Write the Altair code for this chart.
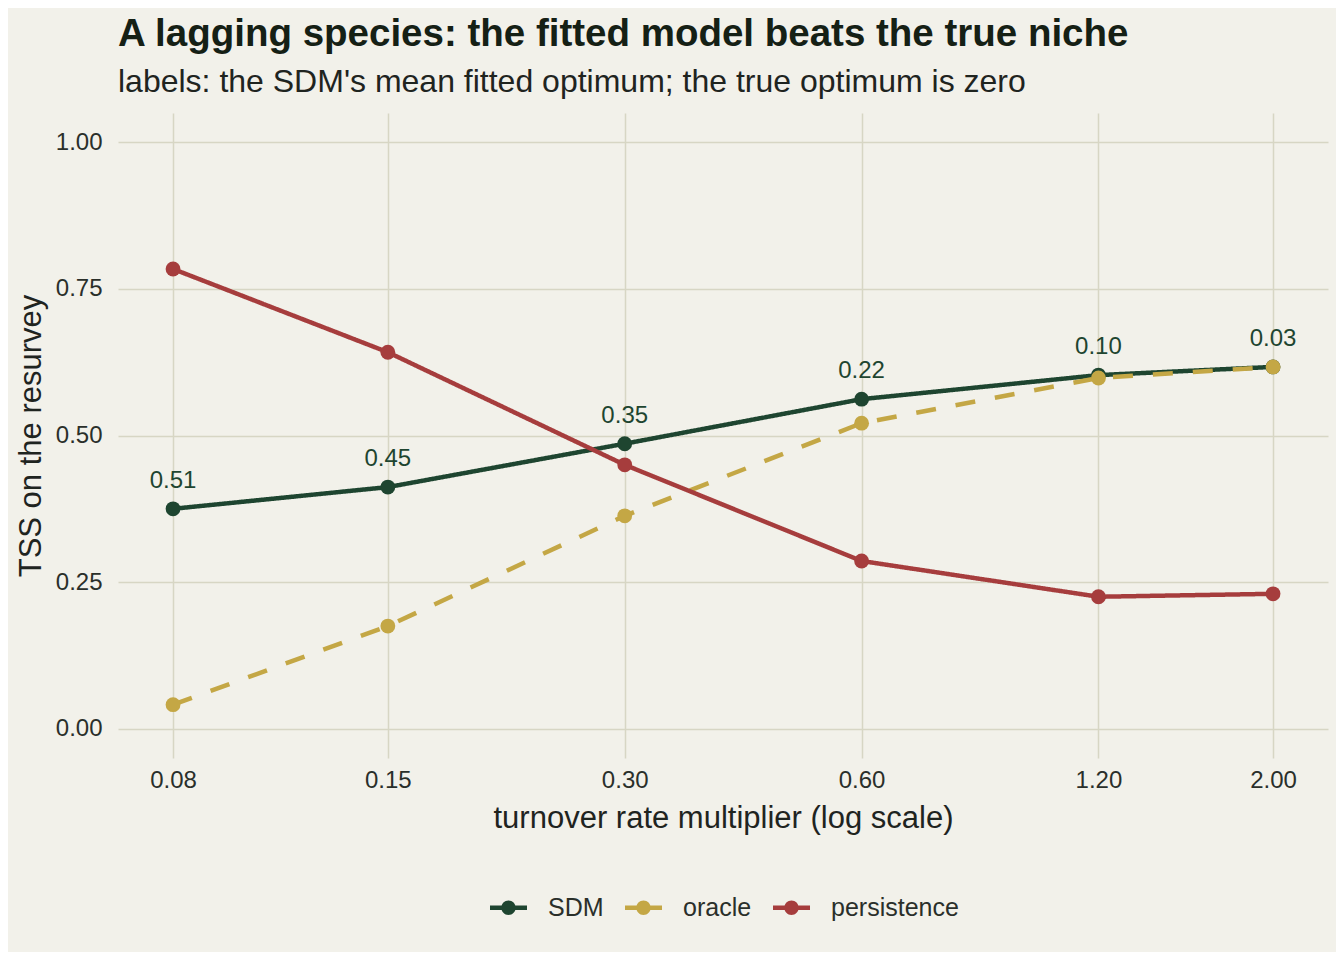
import altair as alt
import pandas as pd

multipliers = [0.08, 0.15, 0.30, 0.60, 1.20, 2.00]
sdm = [0.375, 0.412, 0.486, 0.562, 0.603, 0.617]
oracle = [0.041, 0.175, 0.363, 0.521, 0.598, 0.617]
persistence = [0.784, 0.642, 0.450, 0.286, 0.225, 0.230]
optimum_labels = ["0.51", "0.45", "0.35", "0.22", "0.10", "0.03"]

series = ["SDM", "oracle", "persistence"]
colors = ["#1E4530", "#C4A745", "#A63D3D"]

rows = []
for name, vals in zip(series, [sdm, oracle, persistence]):
    for m, v in zip(multipliers, vals):
        rows.append({"mult": m, "tss": v, "model": name})
df = pd.DataFrame(rows)
lab = pd.DataFrame({"mult": multipliers, "tss": sdm, "label": optimum_labels})

FONT = "Liberation Sans"
xscale = alt.Scale(type="log", domain=[0.0681, 2.349], nice=False, zero=False)
yscale = alt.Scale(domain=[-0.05, 1.05], nice=False, zero=False)
cscale = alt.Scale(domain=series, range=colors)

x = alt.X("mult:Q", scale=xscale,
          axis=alt.Axis(values=multipliers, format=".2f",
                        title="turnover rate multiplier (log scale)"))
y = alt.Y("tss:Q", scale=yscale,
          axis=alt.Axis(values=[0, 0.25, 0.5, 0.75, 1.0], format=".2f",
                        title="TSS on the resurvey"))

legend_path = ("M-1,-0.12L-0.3,-0.12L-0.3,0.12L-1,0.12Z "
               "M0.3,-0.12L1,-0.12L1,0.12L0.3,0.12Z "
               "M0.39,0A0.39,0.39 0 1,1 -0.39,0A0.39,0.39 0 1,1 0.39,0Z")

legend = alt.Legend(title=None, orient="none", direction="horizontal",
                    legendX=372, legendY=776,
                    symbolType=legend_path, symbolSize=1369,
                    symbolStrokeWidth=0, symbolOpacity=1,
                    labelFontSize=25, labelFont=FONT, labelColor="#2a2f2a",
                    labelOffset=21, columnPadding=21)

lines = alt.Chart(df).mark_line(strokeWidth=4.5).encode(
    x=x, y=y,
    color=alt.Color("model:N", scale=cscale, legend=legend),
    strokeDash=alt.StrokeDash("model:N",
        scale=alt.Scale(domain=series, range=[[1, 0], [20, 20], [1, 0]]),
        legend=None),
)

points = alt.Chart(df).mark_point(filled=True, size=220, opacity=1).encode(
    x=x, y=y,
    color=alt.Color("model:N", scale=cscale, legend=legend),
)

texts = alt.Chart(lab).mark_text(fontSize=24, font=FONT, color="#1E4530",
                                 dy=-28).encode(
    x=alt.X("mult:Q", scale=xscale), y=alt.Y("tss:Q", scale=yscale),
    text="label:N")

chart = alt.layer(lines, points, texts).properties(
    width=1210, height=645,
    title=alt.Title("A lagging species: the fitted model beats the true niche",
                    subtitle="labels: the SDM's mean fitted optimum; the true optimum is zero"),
    padding={"left": 110, "top": 105, "right": 8, "bottom": 194},
    autosize=alt.AutoSizeParams(type="none"),
    background="#F2F1EA",
).configure_view(stroke=None).configure_axis(
    grid=True, gridColor="#D7D6C4", gridWidth=1.5, domain=False, ticks=False,
    labelFont=FONT, labelFontSize=24, labelColor="#2a2f2a",
    titleFont=FONT, titleFontSize=31, titleFontWeight="normal", titleColor="#1f241f",
).configure_axisX(labelPadding=10, titlePadding=11).configure_axisY(
    labelPadding=16, titlePadding=8
).configure_title(
    anchor="start", frame="group", font=FONT, fontSize=38.5, fontWeight="bold",
    color="#152015", subtitleFont=FONT, subtitleFontSize=32, subtitleColor="#1f241f",
    subtitlePadding=13, offset=14,
)

chart.save("out.html", embed_options={"renderer": "svg", "actions": False})
